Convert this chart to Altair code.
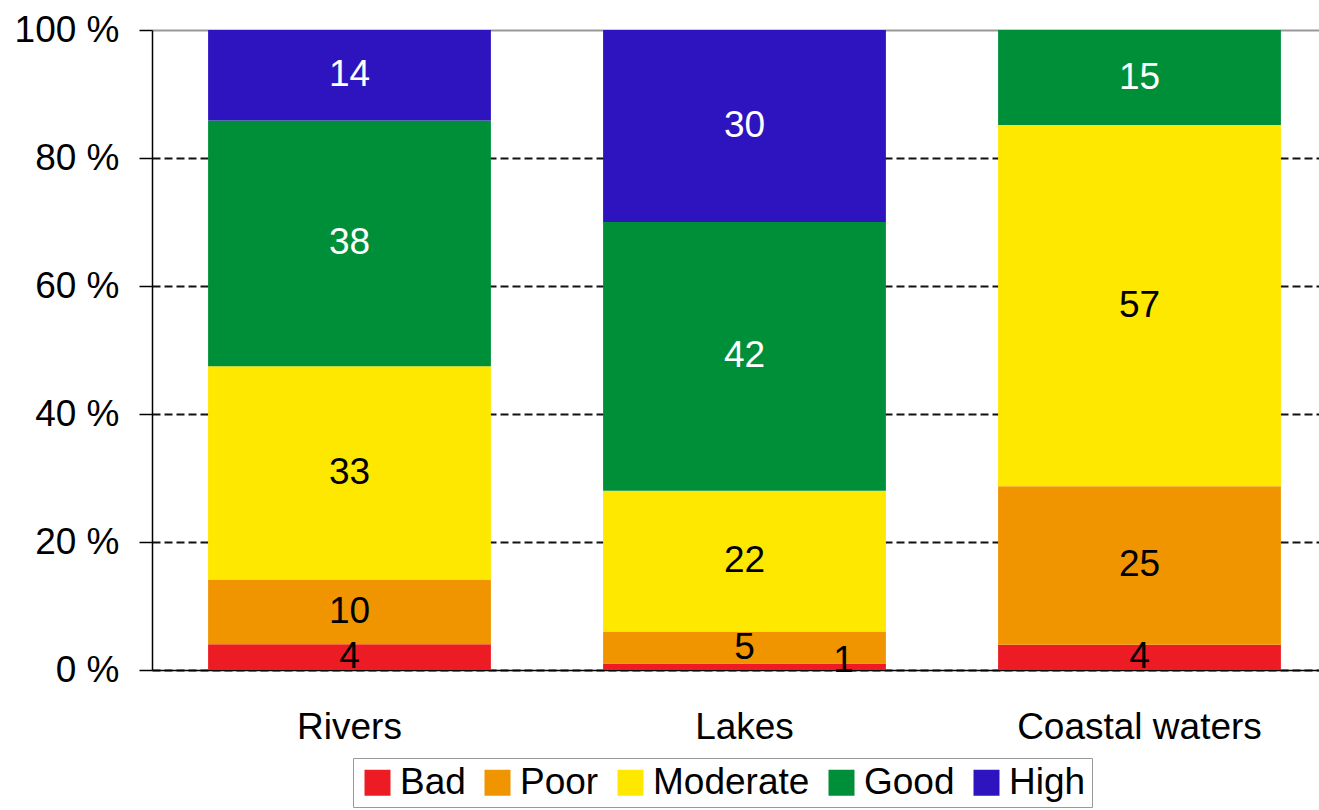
import altair as alt
import pandas as pd

waters = ["Rivers", "Lakes", "Coastal waters"]
classes = ["Bad", "Poor", "Moderate", "Good", "High"]
rivers = [4, 10, 33, 38, 14]
lakes = [1, 5, 22, 42, 30]
coastal = [4, 25, 57, 15, 0]
colors = ["#ED1C24", "#F09400", "#FFE800", "#008F39", "#2E14BF"]
y_ticks = [0, 0.2, 0.4, 0.6, 0.8, 1.0]

rows = []
for w, vals in zip(waters, [rivers, lakes, coastal]):
    for i, (c, v) in enumerate(zip(classes, vals)):
        rows.append({"water": w, "cls": c, "rank": i, "value": v})
df = pd.DataFrame(rows)

FONT = "Liberation Sans"
FS = 37

base = alt.Chart(df).transform_stack(
    stack="value",
    groupby=["water"],
    sort=[alt.SortField("rank", order="ascending")],
    as_=["v0", "v1"],
    offset="normalize",
).transform_calculate(mid="(datum.v0 + datum.v1) / 2")

xscale = alt.Scale(domain=waters, range=[0, 1185], paddingInner=0.284, paddingOuter=0.142)
yscale = alt.Scale(domain=[0, 1], nice=False)

x_axis = alt.Axis(
    labelAngle=0, labelFontSize=FS, labelFont=FONT, labelColor="black",
    labelPadding=39, ticks=False, domainColor="black", domainWidth=1.5,
    grid=False, title=None, labelLimit=600,
)
y_axis = alt.Axis(
    values=y_ticks,
    labelExpr="round(datum.value * 100) + ' %'",
    title=None, tickSize=13, tickColor="black", tickWidth=1.5,
    labelPadding=20, labelFontSize=FS, labelFont=FONT, labelColor="black",
    domainColor="black", domainWidth=1.5,
    grid=True,
    gridColor={"condition": {"test": "datum.value >= 1", "value": "#999999"}, "value": "#111111"},
    gridDash={"condition": {"test": "datum.value >= 1", "value": [1, 0]}, "value": [8, 4]},
    gridWidth=1.8,
)

X = alt.X("water:N", sort=waters, scale=xscale, axis=x_axis)

bars = base.mark_bar().encode(
    x=X,
    y=alt.Y("v0:Q", scale=yscale, axis=y_axis),
    y2="v1:Q",
    color=alt.Color(
        "cls:N",
        scale=alt.Scale(domain=classes, range=colors),
        legend=alt.Legend(
            orient="none", legendX=201, legendY=728, direction="horizontal",
            title=None, symbolType="square", symbolSize=676, symbolStrokeWidth=0,
            labelFontSize=FS, labelFont=FONT, labelColor="black", labelOffset=4,
            columnPadding=13, padding=6, strokeColor="#999999",
            symbolOpacity=1, labelLimit=400,
        ),
    ),
    order=alt.Order("rank:Q"),
)

text_color = alt.condition(alt.datum.rank >= 3, alt.value("white"), alt.value("black"))

labels = base.mark_text(fontSize=FS, font=FONT, baseline="middle", align="center").encode(
    x=X,
    y=alt.Y("mid:Q", scale=yscale, axis=y_axis),
    text=alt.Text("value:Q"),
    color=text_color,
).transform_filter(
    "datum.value > 0 && !(datum.water == 'Lakes' && datum.cls == 'Bad')"
)

special = base.mark_text(fontSize=FS, font=FONT, baseline="middle", align="center", dx=99, dy=-6).encode(
    x=X,
    y=alt.Y("mid:Q", scale=yscale, axis=y_axis),
    text=alt.Text("value:Q"),
    color=alt.value("black"),
).transform_filter("datum.water == 'Lakes' && datum.cls == 'Bad'")

chart = alt.layer(bars, labels, special).properties(
    width=1167,
    height=640,
    autosize=alt.AutoSizeParams(type="none"),
    padding={"left": 152, "top": 30, "right": 0, "bottom": 140},
    background="white",
).configure_view(stroke=None)

chart.save("out.html", embed_options={"renderer": "svg", "actions": False})
